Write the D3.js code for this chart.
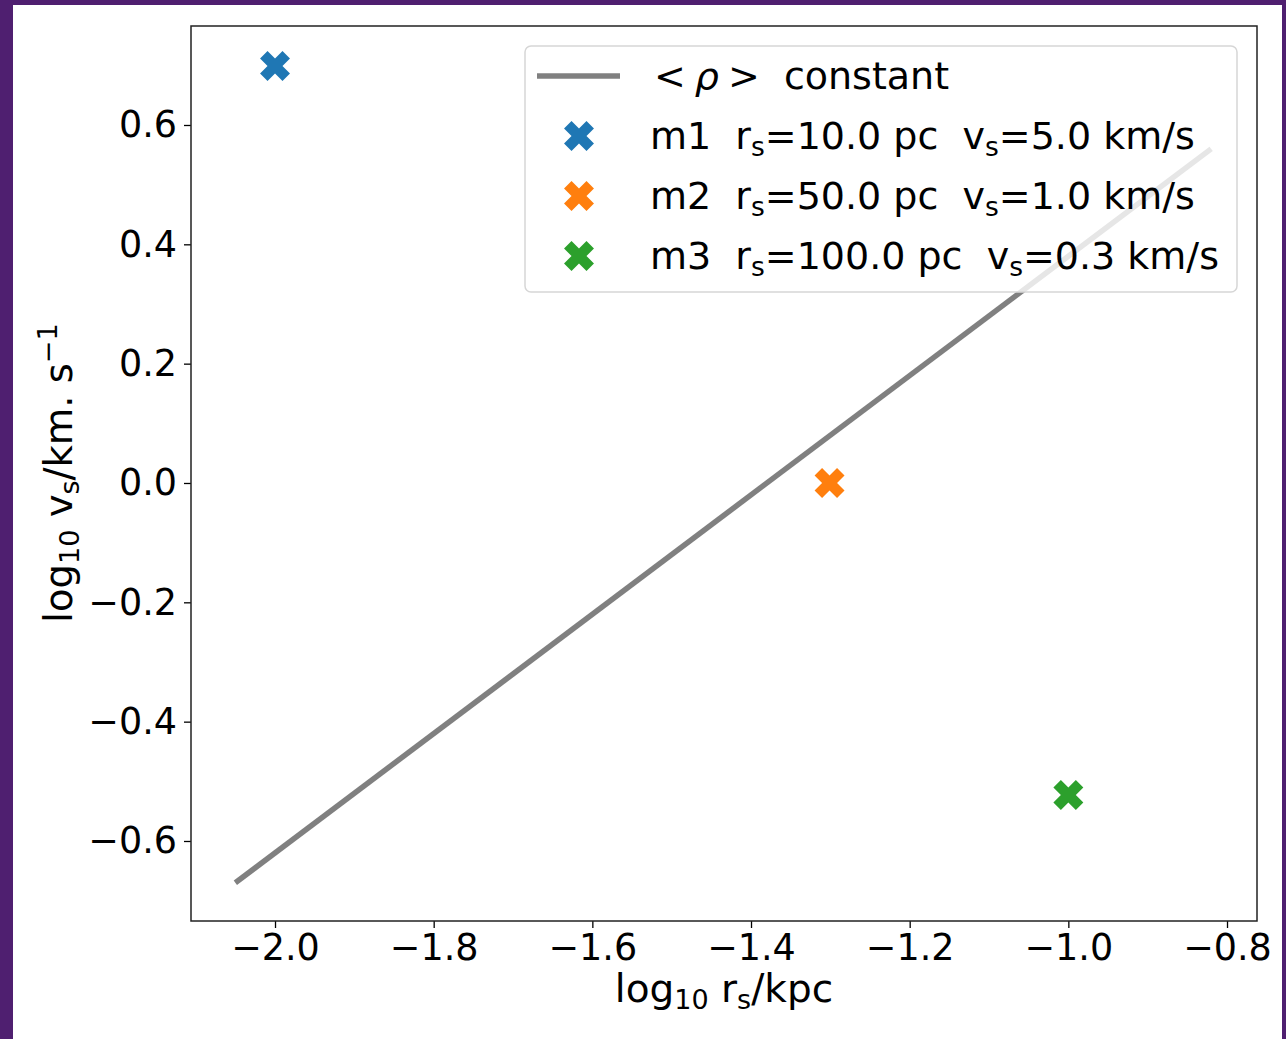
<!DOCTYPE html>
<html>
<head>
<meta charset="utf-8">
<script src="https://d3js.org/d3.v7.min.js"></script>
<style>
  body { margin: 0; background: #4f1f70; }
  svg { display: block; }
  text { font-family: "DejaVu Sans", sans-serif; fill: #000; }
</style>
</head>
<body>
<svg id="svg1" width="1286" height="1039"></svg>
<script>

// model names and values
var models = ['m1', 'm2', 'm3'];
var logRs = [-2.0, -1.301, -1.0];
var logVs = [0.699, 0.0, -0.523];
var rsPc = ['10.0', '50.0', '100.0'];
var vsKms = ['5.0', '1.0', '0.3'];
var colors = ['#1f77b4', '#ff7f0e', '#2ca02c'];

// constant density line, two end points
var lineX = [-2.05, -0.82];
var lineY = [-0.67, 0.56];

// tick labels
var xTicks = [-2.0, -1.8, -1.6, -1.4, -1.2, -1.0, -0.8];
var yTicks = [-0.6, -0.4, -0.2, 0.0, 0.2, 0.4, 0.6];

var svg1 = d3.select('#svg1');

// white page inside the purple frame
svg1.append('rect')
    .attr('x', 13).attr('y', 5)
    .attr('width', 1269).attr('height', 1034)
    .attr('fill', '#fff');

var plot = {left: 191, right: 1257, top: 26, bottom: 921};

var xScale = d3.scaleLinear().domain([-2.1059, -0.7622]).range([plot.left, plot.right]);
var yScale = d3.scaleLinear().domain([-0.7341, 0.7659]).range([plot.bottom, plot.top]);

var fmt = function(d) { return d3.format('.1f')(d).replace('-', '\u2212'); };

// axes
var xAxis = d3.axisBottom(xScale).tickValues(xTicks).tickSize(7).tickPadding(6).tickFormat(fmt);
var yAxis = d3.axisLeft(yScale).tickValues(yTicks).tickSize(7).tickPadding(7).tickFormat(fmt);

var gx = svg1.append('g')
    .attr('transform', 'translate(0,' + plot.bottom + ')')
    .call(xAxis);
var gy = svg1.append('g')
    .attr('transform', 'translate(' + plot.left + ',0)')
    .call(yAxis);

[gx, gy].forEach(function(g) {
    g.select('.domain').remove();
    g.selectAll('line').attr('stroke', '#000').attr('stroke-width', 1.3);
    g.selectAll('text')
        .style('font-family', '"DejaVu Sans", sans-serif')
        .style('font-size', '36.5px')
        .attr('fill', '#000');
});

// frame around the plot
svg1.append('rect')
    .attr('x', plot.left).attr('y', plot.top)
    .attr('width', plot.right - plot.left)
    .attr('height', plot.bottom - plot.top)
    .attr('fill', 'none')
    .attr('stroke', '#222')
    .attr('stroke-width', 1.5);

// constant density line
var lineData = lineX.map(function(x, i) { return [x, lineY[i]]; });
svg1.append('path')
    .datum(lineData)
    .attr('d', d3.line()
        .x(function(d) { return xScale(d[0]); })
        .y(function(d) { return yScale(d[1]); }))
    .attr('fill', 'none')
    .attr('stroke', '#808080')
    .attr('stroke-width', 5.5);

// x shaped markers (filled cross rotated 45)
var xMarker = d3.symbol().type(d3.symbolCross).size(560);

svg1.selectAll('.pt')
    .data(models)
    .enter()
    .append('path')
    .attr('class', 'pt')
    .attr('d', xMarker)
    .attr('fill', function(d, i) { return colors[i]; })
    .attr('transform', function(d, i) {
        return 'translate(' + xScale(logRs[i]) + ',' + yScale(logVs[i]) + ') rotate(45)';
    });

// legend
var legend = svg1.append('g');
legend.append('rect')
    .attr('x', 525).attr('y', 46)
    .attr('width', 712).attr('height', 246)
    .attr('rx', 6)
    .attr('fill', 'rgba(255,255,255,0.8)')
    .attr('stroke', '#d6d6d6')
    .attr('stroke-width', 1.5);

legend.append('line')
    .attr('x1', 537).attr('x2', 620)
    .attr('y1', 76).attr('y2', 76)
    .attr('stroke', '#808080')
    .attr('stroke-width', 5.5);

var t0 = legend.append('text')
    .attr('x', 654).attr('y', 89)
    .style('font-size', '38px')
    .attr('xml:space', 'preserve');
t0.append('tspan').text('<');
t0.append('tspan').attr('dx', 9).style('font-style', 'italic').text('\u03c1');
t0.append('tspan').attr('dx', 9).text('>');
t0.append('tspan').attr('dx', 12).text(' constant');

var rows = legend.selectAll('.row')
    .data(models)
    .enter()
    .append('g')
    .attr('class', 'row')
    .attr('transform', function(d, i) { return 'translate(0,' + (136 + i * 60) + ')'; });

rows.append('path')
    .attr('d', xMarker)
    .attr('fill', function(d, i) { return colors[i]; })
    .attr('transform', 'translate(579,0) rotate(45)');

var rowText = rows.append('text')
    .attr('x', 650).attr('y', 13)
    .style('font-size', '38px')
    .attr('xml:space', 'preserve');
rowText.each(function(d, i) {
    var t = d3.select(this);
    t.append('tspan').text(d + '  r');
    t.append('tspan').attr('dy', 7).style('font-size', '26.5px').text('s');
    t.append('tspan').attr('dy', -7).text('=' + rsPc[i] + ' pc  v');
    t.append('tspan').attr('dy', 7).style('font-size', '26.5px').text('s');
    t.append('tspan').attr('dy', -7).text('=' + vsKms[i] + ' km/s');
});

// x axis label
var xl = svg1.append('text')
    .attr('x', (plot.left + plot.right) / 2)
    .attr('y', 1002)
    .attr('text-anchor', 'middle')
    .style('font-size', '39px')
    .attr('xml:space', 'preserve');
xl.append('tspan').text('log');
xl.append('tspan').attr('dy', 7).style('font-size', '27px').text('10');
xl.append('tspan').attr('dy', -7).text(' r');
xl.append('tspan').attr('dy', 7).style('font-size', '27px').text('s');
xl.append('tspan').attr('dy', -7).text('/kpc');

// y axis label
var yl = svg1.append('text')
    .attr('transform', 'translate(72,' + 473 + ') rotate(-90)')
    .attr('text-anchor', 'middle')
    .style('font-size', '38.5px')
    .attr('xml:space', 'preserve');
yl.append('tspan').text('log');
yl.append('tspan').attr('dy', 7).style('font-size', '27px').text('10');
yl.append('tspan').attr('dy', -7).text(' v');
yl.append('tspan').attr('dy', 7).style('font-size', '27px').text('s');
yl.append('tspan').attr('dy', -7).text('/km. s');
yl.append('tspan').attr('dy', -15).style('font-size', '27px').text('\u22121');

</script>
</body>
</html>
